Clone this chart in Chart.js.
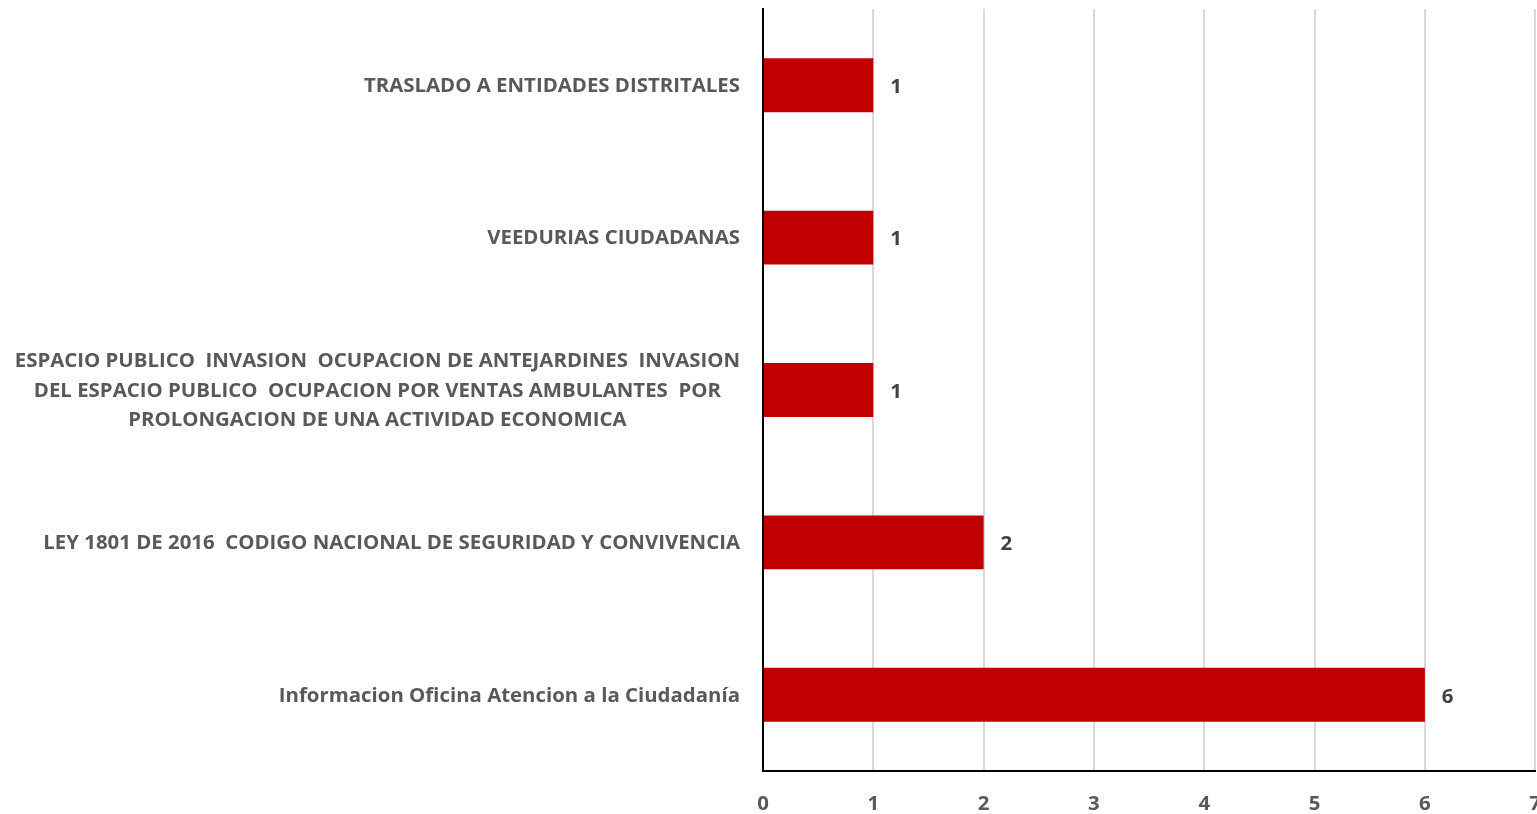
<!DOCTYPE html>
<html>
<head>
<meta charset="utf-8">
<script src="https://cdn.jsdelivr.net/npm/chart.js@4.4.0/dist/chart.umd.min.js"></script>
<style>
  html, body { margin: 0; padding: 0; background: #fff; overflow: hidden; }
  #wrap { width: 1562px; height: 814px; position: relative; }
</style>
</head>
<body>
<div id="wrap"><canvas id="chart"></canvas></div>
<script>
// datos (de arriba hacia abajo)
const categories = [
  'TRASLADO A ENTIDADES DISTRITALES',
  'VEEDURIAS CIUDADANAS',
  ['ESPACIO PUBLICO  INVASION  OCUPACION DE ANTEJARDINES  INVASION',
   'DEL ESPACIO PUBLICO  OCUPACION POR VENTAS AMBULANTES  POR',
   'PROLONGACION DE UNA ACTIVIDAD ECONOMICA'],
  'LEY 1801 DE 2016  CODIGO NACIONAL DE SEGURIDAD Y CONVIVENCIA',
  'Informacion Oficina Atencion a la Ciudadanía'
];
const values = [1, 1, 1, 2, 6];
const xTicks = [0, 1, 2, 3, 4, 5, 6, 7];

const FONT = "'Open Sans', sans-serif";
const LABEL_SIZE = 20.4;
const TEXT_GRAY = '#595959';

// etiquetas del eje y: una linea alineada a la derecha, varias lineas centradas
const yLabelsPlugin = {
  id: 'yLabels',
  afterDraw(chart) {
    const ctx = chart.ctx;
    const yScale = chart.scales.y;
    const rightEdge = yScale.right - 23;
    ctx.save();
    ctx.font = `bold ${LABEL_SIZE}px ${FONT}`;
    ctx.fillStyle = TEXT_GRAY;
    ctx.textAlign = 'center';
    ctx.textBaseline = 'middle';
    categories.forEach((lab, i) => {
      const lines = Array.isArray(lab) ? lab : [lab];
      const w = Math.max(...lines.map(l => ctx.measureText(l).width));
      const cx = rightEdge - w / 2;
      const cy = yScale.getPixelForTick(i) + 1;
      lines.forEach((l, j) => {
        ctx.fillText(l, cx, cy + (j - (lines.length - 1) / 2) * 29.5);
      });
    });
    ctx.restore();
  }
};

// valores al final de cada barra
const valueLabelsPlugin = {
  id: 'valueLabels',
  afterDatasetsDraw(chart) {
    const ctx = chart.ctx;
    const meta = chart.getDatasetMeta(0);
    ctx.save();
    ctx.font = `bold ${LABEL_SIZE}px ${FONT}`;
    ctx.fillStyle = '#404040';
    ctx.textAlign = 'left';
    ctx.textBaseline = 'middle';
    meta.data.forEach((bar, i) => {
      ctx.fillText(String(values[i]), bar.x + 17, bar.y + 2);
    });
    ctx.restore();
  }
};

new Chart(document.getElementById('chart'), {
  type: 'bar',
  data: {
    labels: categories,
    datasets: [{
      data: values,
      backgroundColor: '#c00000',
      borderWidth: 0,
      categoryPercentage: 1,
      barPercentage: 0.354
    }]
  },
  options: {
    indexAxis: 'y',
    responsive: true,
    maintainAspectRatio: false,
    animation: false,
    layout: { padding: { top: 9, left: 0, right: 0, bottom: 0 } },
    plugins: {
      legend: { display: false },
      tooltip: { enabled: false }
    },
    scales: {
      x: {
        min: 0,
        max: 7,
        afterBuildTicks: (axis) => { axis.ticks = xTicks.map(v => ({ value: v })); },
        afterFit: (axis) => { axis.height = 43; },
        grid: { color: '#d9d9d9', lineWidth: 2, drawTicks: false },
        border: { color: '#000000', width: 2 },
        ticks: {
          padding: 21,
          color: TEXT_GRAY,
          font: { family: FONT, size: LABEL_SIZE, weight: 'bold' }
        }
      },
      y: {
        afterFit: (axis) => { axis.width = 763; },
        grid: { display: false, drawTicks: false },
        border: { color: '#000000', width: 2 },
        ticks: { display: false }
      }
    }
  },
  plugins: [yLabelsPlugin, valueLabelsPlugin]
});
</script>
</body>
</html>
